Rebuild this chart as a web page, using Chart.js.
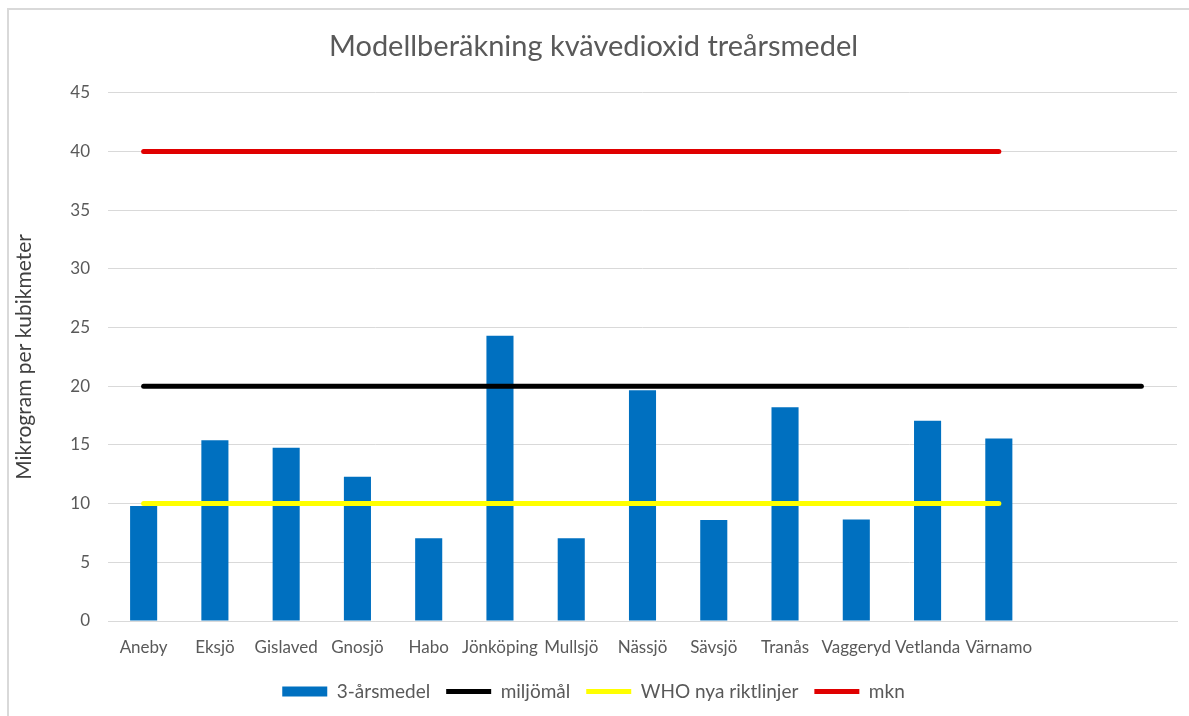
<!DOCTYPE html>
<html>
<head>
<meta charset="utf-8">
<script src="https://cdn.jsdelivr.net/npm/chart.js@4"></script>
<style>
  html, body { margin: 0; padding: 0; background: #fff; }
  #wrap { width: 1189px; height: 716px; }
</style>
</head>
<body>
<div id="wrap"><canvas id="barChart" width="1189" height="716"></canvas></div>
<script>
// kommuner, plus two empty slots so the miljömål line runs further right
const kommuner = ['Aneby', 'Eksjö', 'Gislaved', 'Gnosjö', 'Habo', 'Jönköping', 'Mullsjö',
    'Nässjö', 'Sävsjö', 'Tranås', 'Vaggeryd', 'Vetlanda', 'Värnamo', '', ''];
const treArsmedel = [9.8, 15.4, 14.75, 12.3, 7.05, 24.3, 7.05, 19.65, 8.6, 18.2, 8.65, 17.05, 15.55];
const miljomal = [20, 20, 20, 20, 20, 20, 20, 20, 20, 20, 20, 20, 20, 20, 20];
const whoRiktlinjer = [10, 10, 10, 10, 10, 10, 10, 10, 10, 10, 10, 10, 10];
const mkn = [40, 40, 40, 40, 40, 40, 40, 40, 40, 40, 40, 40, 40];
const yTicks = [0, 5, 10, 15, 20, 25, 30, 35, 40, 45];

const font = 'Lato, "Open Sans", sans-serif';
const grey = '#595959';

// thin grey frame like the pasted excel chart
const framePlugin = {
    id: 'frame',
    beforeDraw(chart) {
        const c = chart.ctx;
        c.save();
        c.strokeStyle = '#d9d9d9';
        c.lineWidth = 2;
        c.beginPath();
        c.moveTo(8, 716);
        c.lineTo(8, 9);
        c.lineTo(1189, 9);
        c.stroke();
        c.restore();
    }
};

const ctx = document.getElementById('barChart').getContext('2d');
const myChart = new Chart(ctx, {
    data: {
        labels: kommuner,
        datasets: [{
            type: 'bar',
            label: '3-årsmedel',
            data: treArsmedel,
            backgroundColor: '#0070c0',
            borderWidth: 0,
            categoryPercentage: 1,
            barPercentage: 0.38,
            pointStyle: 'rect',
            order: 4
        }, {
            type: 'line',
            label: 'miljömål',
            data: miljomal,
            borderColor: '#000000',
            backgroundColor: '#000000',
            borderWidth: 5,
            borderCapStyle: 'round',
            pointRadius: 0,
            pointStyle: 'line',
            order: 3
        }, {
            type: 'line',
            label: 'WHO nya riktlinjer',
            data: whoRiktlinjer,
            borderColor: '#ffff00',
            backgroundColor: '#ffff00',
            borderWidth: 5,
            borderCapStyle: 'round',
            pointRadius: 0,
            pointStyle: 'line',
            order: 2
        }, {
            type: 'line',
            label: 'mkn',
            data: mkn,
            borderColor: '#e00000',
            backgroundColor: '#e00000',
            borderWidth: 5,
            borderCapStyle: 'round',
            pointRadius: 0,
            pointStyle: 'line',
            order: 1
        }]
    },
    options: {
        responsive: false,
        animation: false,
        layout: { padding: { left: 10, right: 12, top: 9, bottom: 5 } },
        plugins: {
            title: {
                display: true,
                text: 'Modellberäkning kvävedioxid treårsmedel',
                color: grey,
                font: { family: font, size: 29, weight: 'normal' },
                padding: { top: 20, bottom: 29 }
            },
            legend: {
                position: 'bottom',
                labels: {
                    color: grey,
                    font: { family: font, size: 19 },
                    usePointStyle: true,
                    pointStyleWidth: 45,
                    boxHeight: 10,
                    padding: 16,
                    sort: (a, b) => a.datasetIndex - b.datasetIndex
                }
            },
            tooltip: { enabled: false }
        },
        scales: {
            x: {
                grid: { display: false, drawTicks: false },
                border: { color: '#d9d9d9' },
                ticks: {
                    color: grey,
                    font: { family: font, size: 17 },
                    padding: 16,
                    maxRotation: 0,
                    autoSkip: false
                },
                afterFit(scale) { scale.height = 45; }
            },
            y: {
                min: 0,
                max: 45,
                afterBuildTicks(scale) { scale.ticks = yTicks.map(v => ({ value: v })); },
                grid: { color: '#d9d9d9', drawTicks: false },
                border: { display: false },
                ticks: {
                    color: grey,
                    font: { family: font, size: 17 },
                    padding: 18
                },
                title: {
                    display: true,
                    text: 'Mikrogram per kubikmeter',
                    color: '#404040',
                    font: { family: font, size: 21 },
                    padding: { top: 2, bottom: 0 }
                },
                afterFit(scale) { scale.width = 98; }
            }
        }
    },
    plugins: [framePlugin]
});
</script>
</body>
</html>
